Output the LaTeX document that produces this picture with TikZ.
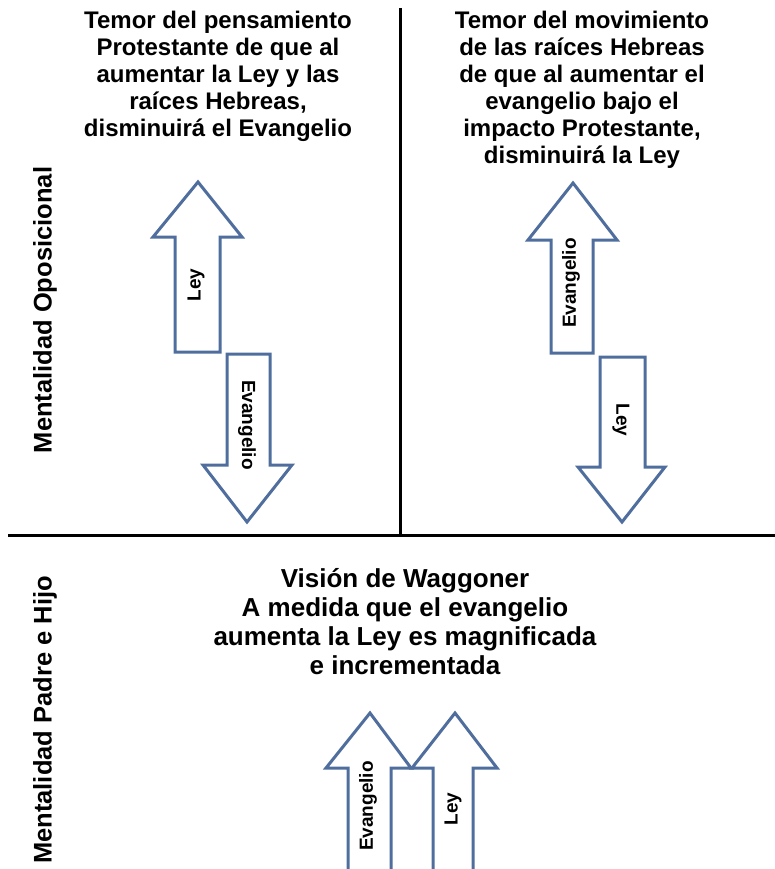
\documentclass[tikz,border=0pt]{standalone}
\usepackage{fontspec}
\setmainfont{Liberation Sans}
\definecolor{flechaazul}{RGB}{79,110,158}
\begin{document}
\begin{tikzpicture}[x=1pt, y=-1pt,
  flecha/.style={line width=3pt, draw=flechaazul, fill=white, line join=miter},
  eje/.style={line width=3pt, black},
  titulo/.style={align=center, inner sep=0pt, anchor=north, font=\fontsize{24}{27}\selectfont\bfseries},
  lado/.style={rotate=90, inner sep=0pt, font=\fontsize{25.5}{28}\selectfont\bfseries},
  etiqueta/.style={inner sep=0pt, font=\fontsize{19}{22}\selectfont\bfseries}]
 \useasboundingbox (0, 0) rectangle (775, 869);
 \clip (0, 0) rectangle (775, 869);
 % ejes
 \draw[eje] (400, 8) -- (400, 535);
 \draw[eje] (8, 535) -- (775, 535);
 % textos
 \node[titulo] (temorprot) at (218, 11) {Temor del pensamiento\\Protestante de que al\\aumentar la Ley y las\\raíces Hebreas,\\disminuirá el Evangelio};
 \node[titulo] (temorheb) at (582, 11) {Temor del movimiento\\de las raíces Hebreas\\de que al aumentar el\\evangelio bajo el\\impacto Protestante,\\disminuirá la Ley};
 \node[titulo, font=\fontsize{26}{29}\selectfont\bfseries] (waggoner) at (405, 568) {Visión de Waggoner\\A medida que el evangelio\\aumenta la Ley es magnificada\\e incrementada};
 \node[lado] (oposicional) at (45, 310) {Mentalidad Oposicional};
 \node[lado] (padrehijo) at (45, 720) {Mentalidad Padre e Hijo};
 % flechas arriba izquierda
 \draw[flecha] (198, 182) -- (242, 237) -- (220, 237) -- (220, 352) -- (175, 352) -- (175, 237) -- (153, 237) -- cycle;
 \draw[flecha] (227, 354) -- (270, 354) -- (270, 465) -- (292, 465) -- (247, 522) -- (203, 465) -- (227, 465) -- cycle;
 \node[etiqueta, rotate=90] (leyizq) at (196, 285) {Ley};
 \node[etiqueta, rotate=-90] (evizq) at (247, 425) {Evangelio};
 % flechas arriba derecha
 \draw[flecha] (573, 183) -- (617, 240) -- (593, 240) -- (593, 353) -- (551, 353) -- (551, 240) -- (528, 240) -- cycle;
 \draw[flecha] (600, 357) -- (645, 357) -- (645, 467) -- (665, 467) -- (622, 522) -- (578, 467) -- (600, 467) -- cycle;
 \node[etiqueta, rotate=90] (evder) at (571, 283) {Evangelio};
 \node[etiqueta, rotate=-90] (leyder) at (621, 420) {Ley};
 % flechas abajo
 \draw[flecha] (370, 713) -- (411, 768) -- (391, 768) -- (391, 880) -- (348, 880) -- (348, 768) -- (326, 768) -- cycle;
 \draw[flecha] (455, 713) -- (497, 768) -- (473, 768) -- (473, 880) -- (433, 880) -- (433, 768) -- (412, 768) -- cycle;
 \node[etiqueta, rotate=90] (evabajo) at (368, 806) {Evangelio};
 \node[etiqueta, rotate=90] (leyabajo) at (453, 809) {Ley};
\end{tikzpicture}
\end{document}
